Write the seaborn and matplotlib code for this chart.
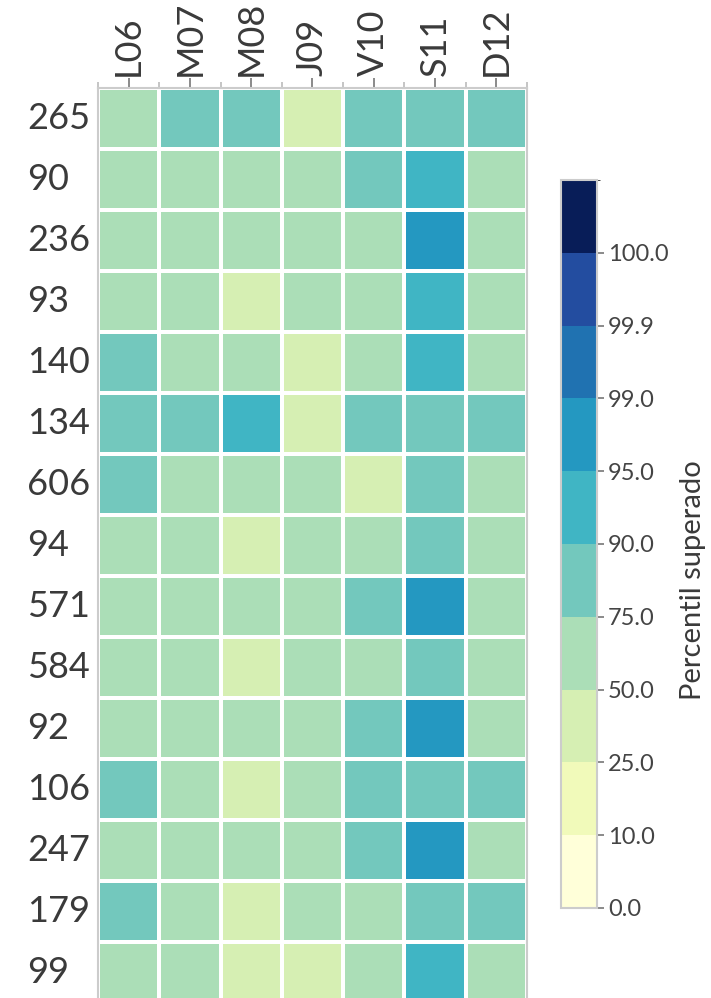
import numpy as np
import pandas as pd
import matplotlib
import matplotlib.pyplot as plt
from matplotlib.colors import ListedColormap, BoundaryNorm
import seaborn as sns

# =============================================
# data: percentil superado por estacion (filas) y mes/codigo (columnas)
filas = ['265', '90', '236', '93', '140', '134', '606', '94', '571', '584',
         '92', '106', '247', '179', '99']
columnas = ['L06', 'M07', 'M08', 'J09', 'V10', 'S11', 'D12']

L06 = [62, 62, 62, 62, 82, 82, 82, 62, 62, 62, 62, 82, 62, 82, 62]
M07 = [82, 62, 62, 62, 62, 82, 62, 62, 62, 62, 62, 62, 62, 62, 62]
M08 = [82, 62, 62, 38, 62, 92, 62, 38, 62, 38, 62, 38, 62, 38, 38]
J09 = [38, 62, 62, 62, 38, 38, 62, 62, 62, 62, 62, 62, 62, 62, 38]
V10 = [82, 82, 62, 62, 62, 82, 38, 62, 82, 62, 82, 82, 82, 62, 62]
S11 = [82, 92, 97, 92, 92, 82, 82, 82, 97, 82, 97, 82, 97, 82, 92]
D12 = [82, 62, 62, 62, 62, 82, 62, 62, 62, 62, 62, 82, 62, 82, 62]

limites = [0, 10, 25, 50, 75, 90, 95, 99, 99.9, 100, 100.1]
etiquetas_cbar = limites[:-1]

df = pd.DataFrame({'L06': L06, 'M07': M07, 'M08': M08, 'J09': J09,
                   'V10': V10, 'S11': S11, 'D12': D12}, index=filas)[columnas]

# =============================================
# style
sns.set_style("ticks")
plt.rcParams['font.family'] = ['Lato', 'DejaVu Sans']

base = matplotlib.colormaps['YlGnBu']
cmap = ListedColormap([base(t) for t in [0, .1, .2, .3, .4, .5, .6, .7, .8, 1.0]])
norm = BoundaryNorm(limites, cmap.N)

fig = plt.figure(figsize=(7.11, 9.98), dpi=100)
ax = fig.add_axes([0.1378, -0.005, 0.6034, 0.9168])
cax = fig.add_axes([0.789, 0.0902, 0.0506, 0.7295])

sns.heatmap(df, cmap=cmap, norm=norm, linewidths=1.5, linecolor='white',
            ax=ax, cbar_ax=cax, cbar_kws={'ticks': etiquetas_cbar})

# heatmap aesthetics
ax.xaxis.tick_top()
ax.set_xticks(np.arange(len(columnas)) + 0.5)
ax.set_xticklabels(columnas, rotation=90, fontsize=26, color='#3a3a3a')
ax.set_xticks(np.arange(len(columnas) + 1), minor=True)
ax.tick_params(axis='x', which='major', top=True, bottom=False, length=7,
               width=1.2, color='#777777', pad=2)
ax.tick_params(axis='x', which='minor', top=True, bottom=False, length=4,
               width=1.2, color='#bbbbbb')
ax.set_yticklabels(filas, rotation=0, fontsize=26, color='#3a3a3a')
ax.tick_params(axis='y', length=0, pad=51)
for lbl in ax.get_yticklabels():
    lbl.set_horizontalalignment('left')
ax.set_xlabel('')
ax.set_ylabel('')
for s in ax.spines.values():
    s.set_visible(True)
    s.set_color('#cccccc')
    s.set_linewidth(1.5)

# colorbar aesthetics
cb = ax.collections[0].colorbar
cb.set_ticks(etiquetas_cbar)
cb.set_ticklabels(['%.1f' % v for v in etiquetas_cbar])
cb.outline.set_edgecolor('#cccccc')
cb.outline.set_linewidth(1.5)
cax.tick_params(labelsize=17, length=5, width=1.2, color='#777777',
                labelcolor='#444444', pad=3)
cb.set_label('Percentil superado', fontsize=21, color='#3a3a3a')
cb.ax.yaxis.label.set_rotation_mode('anchor')
cb.ax.yaxis.label.set_verticalalignment('top')
cb.ax.yaxis.label.set_horizontalalignment('center')
cb.ax.yaxis.set_label_coords(3.3, 0.45)

plt.savefig('out.png', dpi=100)
